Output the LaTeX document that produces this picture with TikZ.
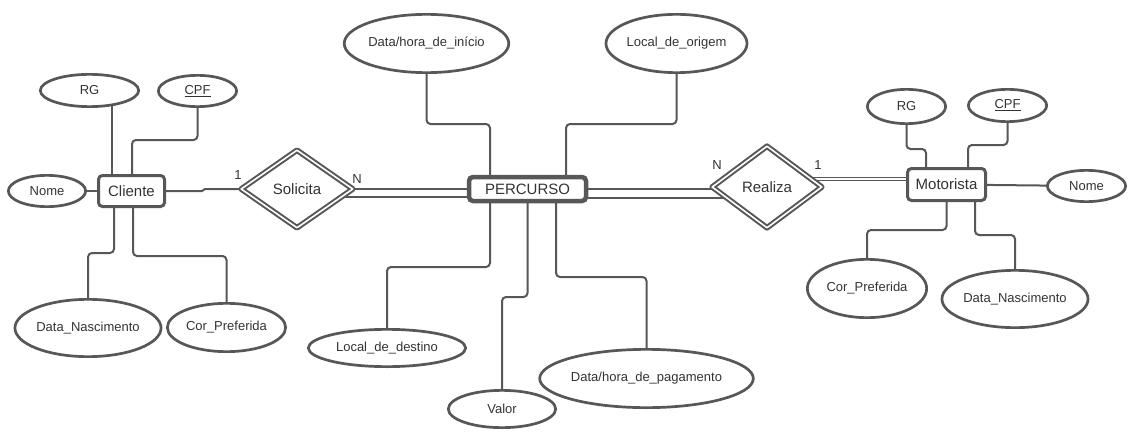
\documentclass[tikz,border=0pt]{standalone}
\usepackage{fontspec}
\setmainfont{Liberation Sans}
\usetikzlibrary{shapes.geometric,calc,backgrounds}
\definecolor{strokec}{HTML}{575757}
\definecolor{textc}{HTML}{333333}
\tikzset{
  attr/.style={ellipse,draw=strokec,line width=2.7pt,fill=white,inner sep=0pt,text=textc,font=\fontsize{13}{15}\selectfont},
  entity/.style={rectangle,rounded corners=4pt,draw=strokec,line width=3pt,fill=white,inner sep=0pt,text=textc,font=\fontsize{15}{17}\selectfont},
  relat/.style={diamond,draw=strokec,double=white,line width=2pt,double distance=1.6pt,line join=round,fill=white,inner sep=0pt,text=textc,font=\fontsize{15}{17}\selectfont},
  conn/.style={draw=strokec,line width=2pt,rounded corners=4pt},
  card/.style={text=textc,font=\fontsize{13}{15}\selectfont,inner sep=0pt}
}
\begin{document}
\begin{tikzpicture}[x=1pt,y=-1pt]
\useasboundingbox (0,0) rectangle (1139,441);

% entities
\node[entity,minimum width=66,minimum height=31] (cli) at (131.5,191) {Cliente};
\node[entity,minimum width=78,minimum height=32] (mot) at (946.5,184.5) {Motorista};
\node[entity,line width=4.5pt,minimum width=117,minimum height=24] (per) at (527.5,189) {PERCURSO};

% relationships
\node[relat,minimum width=112.4,minimum height=78.4] (sol) at (297,189) {Solicita};
\node[relat,minimum width=110.4,minimum height=82.4] (rea) at (767,187) {Realiza};

% Cliente attributes
\node[attr,minimum width=98.3,minimum height=32.3] (crg) at (89.5,90.5) {RG};
\node[attr,minimum width=78.3,minimum height=31.3] (ccpf) at (197.5,91) {\underline{CPF}};
\node[attr,minimum width=77.3,minimum height=31.3] (cnome) at (47,191) {Nome};
\node[attr,minimum width=137.3,minimum height=57.3] (cdn) at (88,328) {Data\_Nascimento};
\node[attr,minimum width=118.3,minimum height=48.3] (ccp) at (226.5,327.5) {Cor\_Preferida};

% Motorista attributes
\node[attr,minimum width=78.3,minimum height=34.3] (mrg) at (906.5,106.5) {RG};
\node[attr,minimum width=78.3,minimum height=32.3] (mcpf) at (1007.5,105.5) {\underline{CPF}};
\node[attr,minimum width=78.3,minimum height=31.3] (mnome) at (1086.5,186) {Nome};
\node[attr,minimum width=119.3,minimum height=58.3] (mcp) at (867,288.5) {Cor\_Preferida};
\node[attr,minimum width=139.3,minimum height=57.3] (mdn) at (1015,299) {Data\_Nascimento};

% PERCURSO attributes
\node[attr,minimum width=158.3,minimum height=58.3] (pdi) at (426.5,43.5) {Data/hora\_de\_início};
\node[attr,minimum width=138.3,minimum height=58.3] (plo) at (676.5,43.5) {Local\_de\_origem};
\node[attr,minimum width=157.3,minimum height=37.3] (pld) at (387,348) {Local\_de\_destino};
\node[attr,minimum width=107.3,minimum height=37.3] (pva) at (502,409) {Valor};
\node[attr,minimum width=198.3,minimum height=58.3] (pdp) at (646.5,378.5) {Data/hora\_de\_pagamento};

% cardinalities
\node[card] (c1) at (238,175) {1};
\node[card] (c2) at (357,179) {N};
\node[card] (c3) at (717,165) {N};
\node[card] (c4) at (818,165) {1};

\begin{scope}[on background layer]
\fill[white] (0,0) rectangle (1139,441);
% Cliente
\draw[conn] ([xshift=-19.5pt]cli.center) -- ([xshift=-19.5pt]cli.center |- crg.center);
\draw[conn] ([xshift=0.5pt]cli.center) -- ++(0,-51) -| (ccpf.center);
\draw[conn] (cnome.center) -- (cli.center);
\draw[conn] ([xshift=-17.5pt]cli.center) -- ++(0,62) -| (cdn.center);
\draw[conn] ([xshift=1.5pt]cli.center) -- ++(0,65) -| (ccp.center);
\draw[conn,rounded corners=0pt] (cli.center) -- ($(cli.center)+(70.5,0)$) -- ($(cli.center)+(73.5,-2)$) -- (sol.center);
% Solicita - PERCURSO
\draw[conn] (sol.center) -- (per.center);
\draw[conn] ($(sol.center)+(0,8)$) -- ($(per.center)+(0,8)$);
% PERCURSO - Realiza
\draw[conn] (per.center) -- (rea.center |- per.center);
\draw[conn] ($(per.center)+(0,9)$) -- ($(rea.center |- per.center)+(0,9)$);
% Realiza - Motorista
\draw[draw=strokec,line width=1.4pt,double=white,double distance=1.4pt] ($(rea.center)+(0,-8)$) -- ($(mot.center |- rea.center)+(0,-8)$);
% PERCURSO attributes
\draw[conn] ([xshift=-37.5pt]per.center) -- ++(0,-65) -| (pdi.center);
\draw[conn] ([xshift=38.5pt]per.center) -- ++(0,-65) -| (plo.center);
\draw[conn] ([xshift=-37.5pt]per.center) -- ++(0,78) -| (pld.center);
\draw[conn] (per.center) -- ++(0,108) -| (pva.center);
\draw[conn] ([xshift=28.5pt]per.center) -- ++(0,88) -| (pdp.center);
% Motorista
\draw[conn] ([xshift=-20.5pt]mot.center) -- ++(0,-35.5) -| (mrg.center);
\draw[conn] ([xshift=21.5pt]mot.center) -- ++(0,-39.5) -| (mcpf.center);
\draw[conn] (mot.center) -- (mnome.center);
\draw[conn] (mot.center) -- ++(0,45.5) -| (mcp.center);
\draw[conn] ([xshift=28.5pt]mot.center) -- ++(0,50.5) -| (mdn.center);
\end{scope}
\end{tikzpicture}
\end{document}
